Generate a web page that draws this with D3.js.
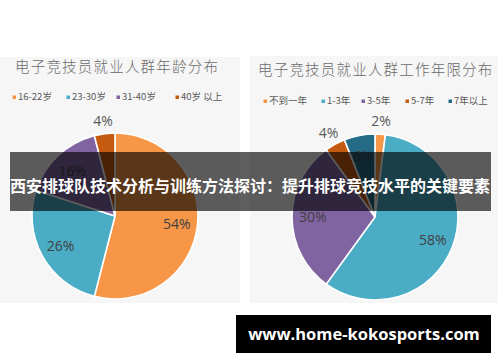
<!DOCTYPE html>
<html>
<head>
<meta charset="utf-8">
<script src="https://cdn.jsdelivr.net/npm/d3@7"></script>
<style>
  html, body { margin: 0; padding: 0; background: #ffffff; }
  svg { display: block; }
</style>
</head>
<body>
<svg id="chart" width="500" height="362"></svg>
<script>
// Age distribution
const ageCategories = ["16-22岁", "23-30岁", "31-40岁", "40岁 以上"];
const ageValues = [54, 26, 16, 4];

// Years-of-work distribution
const tenureCategories = ["不到一年", "1-3年", "3-5年", "5-7年", "7年以上"];
const tenureValues = [2, 58, 30, 4, 6];

const ageColors = ["#f79646", "#4bacc6", "#8064a2", "#c55a11"];
const tenureColors = ["#f79646", "#4bacc6", "#8064a2", "#c55a11", "#246b85"];

const svg = d3.select("#chart");

const cjk = "'Noto Sans CJK SC', 'Noto Sans', sans-serif";
const latin = "'Open Sans', 'Noto Sans', sans-serif";

function drawPanel(cfg) {
  const g = svg.append("g");

  g.append("rect")
    .attr("x", cfg.panel[0]).attr("y", cfg.panel[1])
    .attr("width", cfg.panel[2]).attr("height", cfg.panel[3])
    .attr("fill", "#f6f6f6");

  g.append("text")
    .attr("x", cfg.titleX).attr("y", cfg.titleY)
    .attr("font-family", cjk).attr("font-weight", 300)
    .attr("font-size", 14.5).attr("letter-spacing", cfg.titleSpacing)
    .attr("fill", "#6a6a6a")
    .text(cfg.title);

  // legend
  const lg = g.selectAll("g.legend")
    .data(cfg.categories)
    .join("g")
    .attr("class", "legend")
    .attr("transform", (d, i) => `translate(${cfg.legendX[i]},${cfg.legendY})`);
  lg.append("rect")
    .attr("x", -1.5).attr("y", -4.5)
    .attr("width", 3.5).attr("height", 3.5)
    .attr("fill", (d, i) => cfg.colors[i]);
  lg.append("text")
    .attr("x", 4).attr("y", 0)
    .attr("font-family", cjk).attr("font-size", 9.5)
    .attr("fill", "#595959")
    .text(d => d);

  // pie
  const pie = d3.pie().sort(null).value(d => d);
  const arcs = pie(cfg.values);
  const r = cfg.radius;
  const arc = d3.arc().innerRadius(0).outerRadius(r);
  const inner = d3.arc().innerRadius(r * 0.75).outerRadius(r * 0.75);
  const outer = d3.arc().innerRadius(r * 1.16).outerRadius(r * 1.16);

  const pg = g.append("g").attr("transform", `translate(${cfg.cx},${cfg.cy})`);
  pg.selectAll("path")
    .data(arcs)
    .join("path")
    .attr("d", arc)
    .attr("fill", (d, i) => cfg.colors[i])
    .attr("stroke", "#ffffff")
    .attr("stroke-width", 1.6);

  pg.selectAll("text")
    .data(arcs)
    .join("text")
    .attr("transform", d => {
      const small = d.data < 10 && !(cfg.insideSmall || []).includes(d.index);
      const p = (small ? outer : inner).centroid(d);
      return `translate(${p[0]},${p[1]})`;
    })
    .attr("text-anchor", "middle")
    .attr("dy", "0.36em")
    .attr("font-family", latin)
    .attr("font-size", 14)
    .attr("fill", d => (d.data < 10 && !(cfg.insideSmall || []).includes(d.index)) ? "#595959" : "#404040")
    .text(d => d.data + "%");
}

drawPanel({
  panel: [0, 57, 240, 246],
  title: "电子竞技员就业人群年龄分布",
  titleX: 15, titleY: 72, titleSpacing: 1.2,
  categories: ageCategories,
  values: ageValues,
  colors: ageColors,
  legendX: [14, 68, 118, 177],
  legendY: 100,
  cx: 115, cy: 216, radius: 83
});

drawPanel({
  panel: [250, 56, 248, 247],
  title: "电子竞技员就业人群工作年限分布",
  titleX: 258, titleY: 75, titleSpacing: 1.2,
  categories: tenureCategories,
  values: tenureValues,
  colors: tenureColors,
  legendX: [265, 323, 363, 407, 450],
  legendY: 104,
  cx: 375, cy: 217, radius: 83,
  insideSmall: [4]
});

// headline band
svg.append("rect")
  .attr("x", 10).attr("y", 152)
  .attr("width", 481).attr("height", 59)
  .attr("fill", "rgba(0,0,0,0.63)");
svg.append("text")
  .attr("x", 250).attr("y", 186)
  .attr("text-anchor", "middle").attr("dy", "0.35em")
  .attr("font-family", cjk).attr("font-weight", 700)
  .attr("font-size", 16)
  .attr("fill", "#ffffff")
  .text("西安排球队技术分析与训练方法探讨：提升排球竞技水平的关键要素");

// site banner
svg.append("rect")
  .attr("x", 236).attr("y", 315)
  .attr("width", 255).attr("height", 38)
  .attr("fill", "#000000");
svg.append("text")
  .attr("x", 364).attr("y", 334)
  .attr("text-anchor", "middle").attr("dy", "0.35em")
  .attr("font-family", latin).attr("font-weight", 700)
  .attr("font-size", 16.5)
  .attr("fill", "#ffffff")
  .text("www.home-kokosports.com");
</script>
</body>
</html>
